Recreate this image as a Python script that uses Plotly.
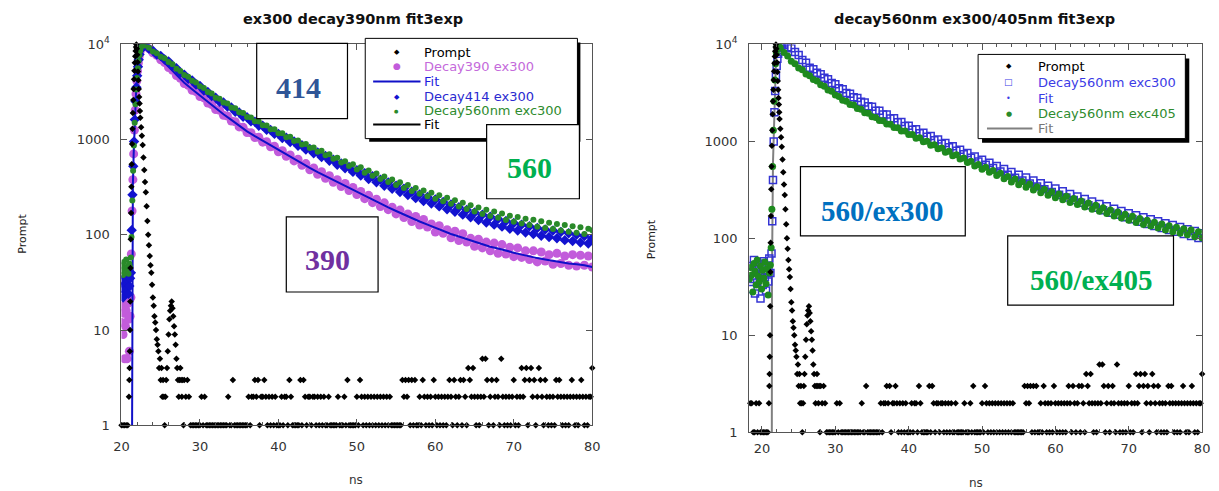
import plotly.graph_objects as go

W, H = 1219, 491

# ------------------------------------------------------------------ data
# Prompt (instrument response) - shared by both panels
prompt_pre_t = [18.2, 18.4, 18.6, 18.8, 19.0, 19.2, 19.4, 19.6, 19.8, 20.0, 20.2, 20.4, 20.6, 20.8]
prompt_pre = [1, 2, 2, 1, 1, 2, 1, 2, 1, 1, 1, 1, 1, 1]

prompt_peak_t = [20.95, 21.0, 21.03, 21.06, 21.09, 21.12, 21.15, 21.18, 21.22, 21.26,
                 21.3, 21.35, 21.4, 21.45, 21.5, 21.55, 21.6, 21.65, 21.7, 21.75,
                 21.8, 21.85, 21.9,
                 21.95, 22.0, 22.05, 22.1, 22.15, 22.2, 22.25, 22.3, 22.35, 22.4,
                 22.5, 22.6, 22.7, 22.8, 22.9, 23.0, 23.1, 23.2, 23.3, 23.4,
                 23.5, 23.6, 23.7, 23.8, 23.9, 24.0, 24.1, 24.2, 24.3, 24.4,
                 24.5, 24.6, 24.7, 24.8, 24.9, 25.0, 25.1, 25.2, 25.3, 25.4,
                 25.5, 25.6, 25.7, 25.8, 25.9, 26.0, 26.1, 26.2, 26.3, 26.4,
                 26.5, 26.6, 26.7, 26.8, 26.9, 27.0, 27.1, 27.2, 27.3, 27.4,
                 27.5, 27.6, 27.7, 27.8, 27.9]
prompt_peak = [2, 3, 4, 6, 10, 20, 45, 90, 170, 320,
               550, 900, 1300, 1900, 2600, 3400, 4300, 5300, 6400, 7500,
               8500, 9400, 10000,
               9000, 7800, 6500, 5200, 4200, 3400, 2800, 2400, 2000, 1700,
               1350, 1100, 880, 650, 480, 360, 280, 200, 140, 100,
               78, 60, 48, 40, 30, 22, 18, 14, 12, 10,
               8, 7, 6, 4, 5, 3, 4, 2, 3, 2,
               1, 2, 3, 4, 6, 9, 13, 16, 18, 20,
               17, 14, 11, 9, 7, 5, 4, 3, 2, 3,
               4, 3, 2, 3, 1]

# prompt tail counts, one channel every 0.2 ns from 28.0 ns to 80.0 ns
prompt_tail_start, prompt_tail_step = 28.0, 0.2
prompt_tail = [
    3, 2, 3, 2, 1, 1, 1, 1, 1, 1, 1, 2, 1, 2, 1, 1, 1, 1, 1, 1, 1, 1, 1, 1, 1,
    1, 1, 1, 2, 1, 1, 3, 1, 1, 1, 1, 1, 1, 1, 1, 1, 2, 1, 2, 2, 3, 2, 3, 1, 2,
    2, 3, 2, 1, 2, 1, 2, 1, 2, 1, 1, 1, 2, 1, 2, 2, 1, 3, 2, 1, 1, 1, 1, 1, 3,
    1, 3, 2, 1, 2, 2, 1, 2, 2, 1, 2, 1, 2, 1, 2, 1, 1, 2, 1, 1, 1, 1, 1, 2, 1,
    1, 1, 2, 1, 3, 1, 1, 1, 1, 1, 2, 1, 3, 2, 1, 2, 1, 2, 1, 2, 1, 2, 1, 2, 1,
    2, 1, 2, 1, 2, 1, 2, 1, 1, 1, 1, 1, 1, 1, 3, 2, 3, 2, 3, 1, 3, 1, 3, 1, 1,
    2, 1, 3, 2, 1, 2, 1, 2, 1, 3, 2, 1, 2, 1, 2, 1, 2, 1, 2, 3, 2, 1, 3, 2, 1,
    2, 3, 1, 3, 2, 1, 4, 3, 2, 4, 2, 1, 2, 1, 2, 5, 2, 5, 3, 1, 2, 3, 1, 2, 3,
    2, 1, 5, 2, 1, 2, 1, 2, 1, 2, 3, 1, 2, 1, 2, 4, 2, 3, 4, 1, 3, 4, 2, 3, 1,
    2, 4, 3, 2, 1, 3, 2, 1, 2, 1, 2, 1, 3, 2, 3, 2, 1, 2, 1, 2, 1, 2, 3, 2, 1,
    2, 1, 2, 3, 2, 1, 2, 1, 2, 2, 4,
]

# ---- left panel decays (ex300) ----
early_t_left = [20.0, 20.1, 20.2, 20.3, 20.4, 20.5, 20.6, 20.7, 20.8, 20.9, 21.0, 21.1, 21.2]
d390_early = [12, 18, 9, 15, 5, 11, 16, 5, 19, 13, 6, 14, 22]
d414_early = [28, 33, 22, 30, 36, 25, 31, 27, 34, 24, 29, 35, 40]
d560_early = [42, 48, 38, 52, 45, 40, 55, 44, 47, 39, 50, 46, 58]

d390_rise_t = [21.25, 21.35, 21.45, 21.55, 21.65, 21.75, 21.85, 21.95, 22.05, 22.15, 22.25, 22.35, 22.45, 22.55, 22.65, 22.75]
d390_rise = [63, 178, 380, 708, 1259, 2042, 3020, 4121, 5248, 6383, 7413, 8279, 9016, 9594, 9931, 10000]
d414_rise_t = [21.3, 21.4, 21.5, 21.6, 21.7, 21.8, 21.9, 22.0, 22.1, 22.2, 22.3, 22.4, 22.5, 22.6, 22.7, 22.8]
d414_rise = [112, 263, 525, 955, 1622, 2512, 3548, 4677, 5821, 6918, 7852, 8670, 9333, 9795, 10000, 9954]
d560_rise_t = [21.28, 21.38, 21.48, 21.58, 21.68, 21.78, 21.88, 21.98, 22.08, 22.18, 22.28, 22.38, 22.48, 22.58, 22.68, 22.78]
d560_rise = [95, 230, 470, 870, 1500, 2350, 3350, 4450, 5600, 6700, 7700, 8550, 9250, 9750, 9990, 9990]

# decay channels every 0.5 ns from 23.0 ns
decay_start, decay_step = 23.0, 0.5
d390 = [9700, 9050, 8150, 7700, 6880, 6450, 5720, 5350, 4700, 4400,
        3880, 3720, 3300, 3190, 2840, 2740, 2420, 2340, 2070, 2030,
        1800, 1770, 1570, 1540, 1360, 1345, 1185, 1180, 1050, 1060,
        940, 950, 840, 850, 745, 765, 668, 690, 598, 622,
        538, 560, 482, 505, 432, 460, 392, 418, 356, 380,
        322, 346, 292, 315, 265, 286, 240, 260, 218, 237,
        198, 217, 184, 195, 166, 182, 152, 166, 138, 156,
        127, 145, 121, 130, 107, 125, 104, 113, 93, 109,
        87, 103, 84, 92, 76, 90, 73, 84, 68, 82,
        64, 79, 63, 74, 59, 73, 58, 68, 55, 68,
        52, 66, 53, 62, 49, 64, 50, 60, 48, 62,
        47, 61, 48, 60, 46]
d414 = [9800, 9000, 8600, 7800, 7550, 6930, 6640, 5950, 5620, 5030,
        4800, 4350, 4190, 3780, 3650, 3280, 3170, 2860, 2760, 2500,
        2450, 2220, 2180, 1960, 1930, 1740, 1715, 1555, 1545, 1400,
        1400, 1270, 1265, 1148, 1150, 1040, 1045, 945, 955, 862,
        872, 788, 800, 720, 735, 655, 672, 600, 615, 545,
        562, 500, 518, 458, 478, 420, 445, 386, 412, 356,
        380, 328, 354, 305, 328, 282, 306, 262, 284, 243,
        266, 227, 250, 213, 235, 199, 221, 186, 208, 175,
        195, 163, 183, 153, 172, 143, 163, 135, 155, 128,
        147, 122, 140, 116, 133, 111, 128, 106, 123, 102,
        118, 98, 114, 95, 111, 92, 107, 88, 104, 86,
        100, 83, 97, 81, 92]
d560 = [9750, 9220, 8420, 8050, 7410, 7170, 6530, 6180, 5560, 5260,
        4760, 4570, 4160, 3990, 3630, 3490, 3160, 3050, 2760, 2690,
        2450, 2400, 2180, 2135, 1940, 1900, 1725, 1705, 1560, 1550,
        1415, 1410, 1285, 1282, 1165, 1168, 1060, 1070, 970, 982,
        888, 902, 815, 828, 745, 762, 684, 702, 628, 645,
        575, 592, 528, 550, 487, 512, 450, 475, 417, 440,
        386, 410, 358, 382, 333, 357, 310, 333, 288, 311,
        270, 292, 254, 276, 240, 260, 225, 246, 212, 231,
        199, 218, 187, 205, 176, 194, 166, 184, 158, 176,
        151, 168, 143, 159, 137, 154, 132, 148, 127, 144,
        122, 139, 118, 134, 115, 130, 111, 127, 108, 123,
        105, 120, 102, 116, 112]

# three-exponential fit of Decay390
fit390_t = [21.34, 21.36, 21.45, 21.55, 21.7, 21.85, 22.0, 22.2, 22.4, 22.6, 22.8,
            23, 24, 25, 26, 27, 28, 29, 30, 31, 32, 33, 34, 35, 36, 37, 38, 39, 40,
            41, 42, 43, 44, 45, 46, 47, 48, 49, 50, 51, 52, 53, 54, 55, 56, 57, 58,
            59, 60, 61, 62, 63, 64, 65, 66, 67, 68, 69, 70, 71, 72, 73, 74, 75, 76,
            77, 78, 79, 80]
fit390 = [0.5, 90, 330, 700, 1620, 3000, 4677, 6918, 8670, 9795, 10000,
          9683, 8279, 6982, 5808, 4775, 3954, 3381, 2897, 2477, 2123, 1849, 1611, 1400, 1219, 1086, 971, 867, 776,
          695, 625, 561, 505, 456, 414, 377, 342, 311, 282, 256, 233, 212, 194, 178, 163, 149, 138,
          128, 118, 110, 102, 96, 90, 84, 78.5, 75, 72, 68, 65, 62, 60, 57, 55, 53, 52,
          50, 49, 48, 46]

# ---- right panel decays (560 nm) ----
early_t_right = [18.3, 18.45, 18.6, 18.75, 18.9, 19.05, 19.2, 19.35, 19.5, 19.65,
                 19.8, 19.95, 20.1, 20.25, 20.4, 20.55, 20.7, 20.85, 21.0, 21.15]
e300_early = [45, 30, 52, 38, 60, 27, 48, 35, 55, 42, 24, 50, 33, 58, 40, 29, 46, 36, 62, 44]
e405_early = [38, 50, 42, 28, 55, 46, 33, 60, 41, 36, 52, 30, 47, 39, 57, 34, 49, 26, 44, 53]

e300_rise_t = [21.3, 21.4, 21.5, 21.6, 21.7, 21.8, 21.9, 22.0, 22.1, 22.2, 22.3, 22.4, 22.5, 22.6, 22.7, 22.8]
e300_rise = [70, 150, 400, 1000, 2000, 3300, 4700, 6000, 7100, 8000, 8700, 9200, 9600, 9850, 10000, 10000]
e405_rise_t = [21.25, 21.35, 21.45, 21.55, 21.65, 21.75, 21.85, 21.95, 22.05, 22.15, 22.25, 22.35]
e405_rise = [80, 200, 550, 1300, 2600, 4300, 6300, 8200, 9500, 10000, 9800, 9600]

e300_start = 23.0
e300 = [9800, 9350, 9120, 8330, 7760, 6920, 6460, 5750, 5550, 5100,
        4930, 4520, 4370, 4000, 3880, 3540, 3440, 3160, 3100, 2850,
        2800, 2560, 2520, 2305, 2270, 2070, 2065, 1890, 1890, 1725,
        1728, 1578, 1580, 1440, 1448, 1318, 1335, 1212, 1230, 1115,
        1135, 1025, 1046, 945, 965, 868, 890, 800, 822, 735,
        758, 676, 700, 622, 648, 574, 602, 530, 558, 490,
        518, 452, 482, 422, 452, 394, 424, 367, 396, 343,
        371, 320, 348, 300, 326, 281, 306, 264, 287, 248,
        270, 233, 254, 219, 240, 207, 226, 195, 214, 184,
        202, 175, 192, 165, 182, 157, 173, 148, 165, 141,
        157, 134, 150, 128, 143, 122, 137, 117, 131, 111,
        124, 106, 119, 101, 113]
e405_start = 22.5
e405 = [9250, 8250, 7600, 6720, 6300, 5720, 5470, 4960, 4740, 4340,
        4200, 3840, 3710, 3395, 3285, 3000, 2905, 2655, 2600, 2405,
        2365, 2185, 2142, 1978, 1945, 1795, 1768, 1638, 1630, 1510,
        1505, 1388, 1386, 1280, 1280, 1175, 1180, 1080, 1088, 993,
        1002, 912, 924, 840, 855, 772, 790, 712, 730, 657,
        675, 606, 625, 558, 578, 517, 540, 480, 502, 445,
        468, 412, 435, 382, 410, 358, 386, 336, 363, 315,
        341, 296, 321, 279, 303, 263, 287, 250, 271, 235,
        257, 223, 243, 211, 231, 200, 219, 190, 207, 180,
        196, 170, 187, 162, 177, 154, 169, 146, 160, 139,
        154, 134, 147, 128, 141, 122, 135, 117, 130, 113,
        126, 109, 122, 104, 117, 101]

fit405_t = [21.34, 21.36, 21.5, 21.7, 21.9, 22.1, 23, 24, 26, 28, 30, 33, 36, 40, 45, 50, 55, 60, 65, 70, 75, 80]
fit405 = [0.5, 40, 600, 2600, 6500, 9800, 8318, 6792, 5023, 3890, 3041, 2218, 1667, 1202, 790, 538, 378, 279, 212, 163, 130, 107]

y_tickvals = [1, 10, 100, 1000, 10000]
y_ticktext = ["1", "10", "100", "1000", "10<sup>4</sup>"]
x_tickvals = [20, 30, 40, 50, 60, 70, 80]

for a, b in [(prompt_pre_t, prompt_pre), (prompt_peak_t, prompt_peak), (early_t_left, d390_early),
             (early_t_left, d414_early), (early_t_left, d560_early), (d390_rise_t, d390_rise),
             (d414_rise_t, d414_rise), (d560_rise_t, d560_rise), (fit390_t, fit390),
             (early_t_right, e300_early), (early_t_right, e405_early), (e300_rise_t, e300_rise),
             (e405_rise_t, e405_rise), (fit405_t, fit405)]:
    assert len(a) == len(b), (len(a), len(b))
assert len(prompt_tail) == 261 and len(d390) == 115 and len(d414) == 115 and len(d560) == 115
assert len(e300) == 115 and len(e405) == 116


def grid(start, step, vals):
    return [round(start + step * i, 3) for i in range(len(vals))]


prompt_t = prompt_pre_t + prompt_peak_t + grid(prompt_tail_start, prompt_tail_step, prompt_tail)
prompt_v = prompt_pre + prompt_peak + prompt_tail

# ------------------------------------------------------------------ figure
PURPLE = "#C25CDB"
BLUE = "#1212CF"
GREEN = "#2A8A2A"
FONT = "DejaVu Sans"

fig = go.Figure()

# left panel
fig.add_trace(go.Scatter(x=early_t_left + d390_rise_t + grid(decay_start, decay_step, d390),
                         y=d390_early + d390_rise + d390, mode="markers",
                         marker=dict(color=PURPLE, size=9), xaxis="x", yaxis="y"))
fig.add_trace(go.Scatter(x=fit390_t, y=fit390, mode="lines",
                         line=dict(color="#1010C8", width=2), xaxis="x", yaxis="y"))
fig.add_trace(go.Scatter(x=early_t_left + d414_rise_t + grid(decay_start, decay_step, d414),
                         y=d414_early + d414_rise + d414, mode="markers",
                         marker=dict(color=BLUE, size=8, symbol="diamond"), xaxis="x", yaxis="y"))
fig.add_trace(go.Scatter(x=early_t_left + d560_rise_t + grid(decay_start, decay_step, d560),
                         y=d560_early + d560_rise + d560, mode="markers",
                         marker=dict(color=GREEN, size=6), xaxis="x", yaxis="y"))
pl = [(t, v) for t, v in zip(prompt_t, prompt_v) if t >= 20.0]
fig.add_trace(go.Scatter(x=[p[0] for p in pl], y=[p[1] for p in pl], mode="markers",
                         marker=dict(color="black", size=5, symbol="diamond"),
                         cliponaxis=False, xaxis="x", yaxis="y"))

# right panel
fig.add_trace(go.Scatter(x=fit405_t, y=fit405, mode="lines",
                         line=dict(color="#808080", width=2), xaxis="x2", yaxis="y2"))
fig.add_trace(go.Scatter(x=early_t_right + e300_rise_t + grid(e300_start, decay_step, e300),
                         y=e300_early + e300_rise + e300, mode="markers",
                         marker=dict(color="#3434D4", size=7, symbol="square-open", line=dict(width=1.5)),
                         xaxis="x2", yaxis="y2"))
fig.add_trace(go.Scatter(x=early_t_right + e405_rise_t + grid(e405_start, decay_step, e405),
                         y=e405_early + e405_rise + e405, mode="markers",
                         marker=dict(color="#1E8A1E", size=7), xaxis="x2", yaxis="y2"))
fig.add_trace(go.Scatter(x=prompt_t, y=prompt_v, mode="markers",
                         marker=dict(color="black", size=5, symbol="diamond"),
                         cliponaxis=False, xaxis="x2", yaxis="y2"))

AX = "#555555"
tickfont = dict(family=FONT, size=13, color="#333333")


def xax(domain, rng, anchor):
    return dict(domain=domain, range=rng, anchor=anchor, showline=True, linecolor=AX, linewidth=1,
                mirror="ticks", ticks="inside", ticklen=6, tickcolor=AX, tickvals=x_tickvals,
                minor=dict(dtick=2, tick0=0, ticks="inside", ticklen=3, tickcolor=AX, showgrid=False),
                showgrid=False, zeroline=False, tickfont=tickfont, ticklabelstandoff=6)


def yax(domain, anchor):
    return dict(domain=domain, type="log", range=[0, 4], anchor=anchor, showline=True, linecolor=AX,
                linewidth=1, mirror="ticks", ticks="inside", ticklen=6, tickcolor=AX,
                tickvals=y_tickvals, ticktext=y_ticktext, showgrid=False, zeroline=False,
                tickfont=tickfont, ticklabelstandoff=8)


# target pixel positions, corrected for the small vertical scaling seen in the captured page
OY, SY = 7.7, 0.963


def px(x):
    return min(1.0, x / W)


def py(y):
    return max(0.0, min(1.0, 1 - ((y - OY) / SY) / H))


fig.update_layout(
    width=W, height=H, margin=dict(l=0, r=0, t=0, b=0),
    paper_bgcolor="white", plot_bgcolor="white", showlegend=False,
    xaxis=xax([px(115), px(592)], [20, 80], "y"),
    yaxis=yax([py(423), py(43)], "x"),
    xaxis2=xax([px(751), px(1210)], [18.25, 80], "y2"),
    yaxis2=yax([py(430), py(43)], "x2"),
)
fig.update_layout(xaxis=dict(ticklabelstandoff=9), xaxis2=dict(ticklabelstandoff=4))

shapes = []
annotations = []


def text(x, y, s, size, color, family=FONT, xanchor="center", angle=0):
    annotations.append(dict(xref="paper", yref="paper", x=px(x), y=py(y), text=s, showarrow=False,
                            xanchor=xanchor, yanchor="middle", textangle=angle,
                            font=dict(family=family, size=size, color=color)))


def rect(x0, y0, x1, y1, fill="white", line="black", lw=1.2):
    shapes.append(dict(type="rect", xref="paper", yref="paper", x0=px(x0), x1=px(x1), y0=py(y1), y1=py(y0),
                       fillcolor=fill, line=dict(color=line, width=lw), layer="above"))


def hline(x0, x1, y, color, lw=2):
    shapes.append(dict(type="line", xref="paper", yref="paper", x0=px(x0), x1=px(x1), y0=py(y), y1=py(y),
                       line=dict(color=color, width=lw), layer="above"))


# titles and axis labels
text(350, 18, "<b>ex300 decay390nm fit3exp</b>", 14.5, "#111111")
text(979, 18, "<b>decay560nm ex300/405nm fit3exp</b>", 14.5, "#111111")
text(15, 232, "Prompt", 11, "#222222", angle=-90)
text(652, 237, "Prompt", 11, "#222222", angle=-90)
text(353, 478, "ns", 12, "#333333")
text(981, 485, "ns", 12, "#333333")

# left legend
rect(366, 41, 580, 140, fill="black", line="black", lw=0)
rect(362, 37, 577, 137, lw=1)
ly = [51, 65, 80, 95, 109, 123]
text(394, ly[0], "◆", 7, "black")
text(394, ly[1], "●", 9, PURPLE)
hline(370, 418, ly[2], "#1010C8")
text(394, ly[3], "◆", 7, BLUE)
text(394, ly[4], "●", 5, GREEN)
hline(370, 418, ly[5], "black")
for s, c, yy in [("Prompt", "#000000", ly[0]), ("Decay390 ex300", "#C46ADB", ly[1]),
                 ("Fit", "#1F1FE0", ly[2]), ("Decay414 ex300", "#2A2AD0", ly[3]),
                 ("Decay560nm exc300", "#2E8B2E", ly[4]), ("Fit", "#000000", ly[5])]:
    text(420, yy, s, 13, c, xanchor="left")

# right legend
rect(987, 57, 1197, 141, fill="black", line="black", lw=0)
rect(983, 53, 1193, 137, lw=1)
ry = [65, 81, 97, 112, 127]
text(1014, ry[0], "◆", 7, "black")
text(1014, ry[1], "□", 9, "#3C3CE6")
text(1014, ry[2], "•", 8, "#3C3CE6")
text(1014, ry[3], "●", 7, GREEN)
hline(992, 1038, ry[4], "#808080")
for s, c, yy in [("Prompt", "#000000", ry[0]), ("Decay560nm exc300", "#3C3CE6", ry[1]),
                 ("Fit", "#3C3CE6", ry[2]), ("Decay560nm exc405", "#2E8B2E", ry[3]),
                 ("Fit", "#777777", ry[4])]:
    text(1042, yy, s, 13, c, xanchor="left")

# label boxes
SERIF = "Liberation Serif"
rect(252, 42, 344, 117)
text(294, 86, "<b>414</b>", 30, "#2F5597", family=SERIF)
rect(485, 123, 579, 197)
text(528, 166, "<b>560</b>", 30, "#00B050", family=SERIF)
rect(282, 215, 375, 290)
text(324, 258, "<b>390</b>", 30, "#7030A0", family=SERIF)
rect(803, 165, 970, 234)
text(886, 209, "<b>560/ex300</b>", 29, "#0070C0", family=SERIF)
rect(1013, 234, 1181, 303)
text(1097, 278, "<b>560/ex405</b>", 29, "#00B050", family=SERIF)

fig.update_layout(shapes=shapes, annotations=annotations)

page_fix = (
    "var gd=document.getElementById('{plot_id}');"
    "var de=document.documentElement, b=document.body;"
    "[de,b].forEach(function(e){e.style.margin='0';e.style.padding='0';e.style.overflow='hidden';});"
)
fig.write_html("out.html", config={"displayModeBar": False}, post_script=page_fix)
